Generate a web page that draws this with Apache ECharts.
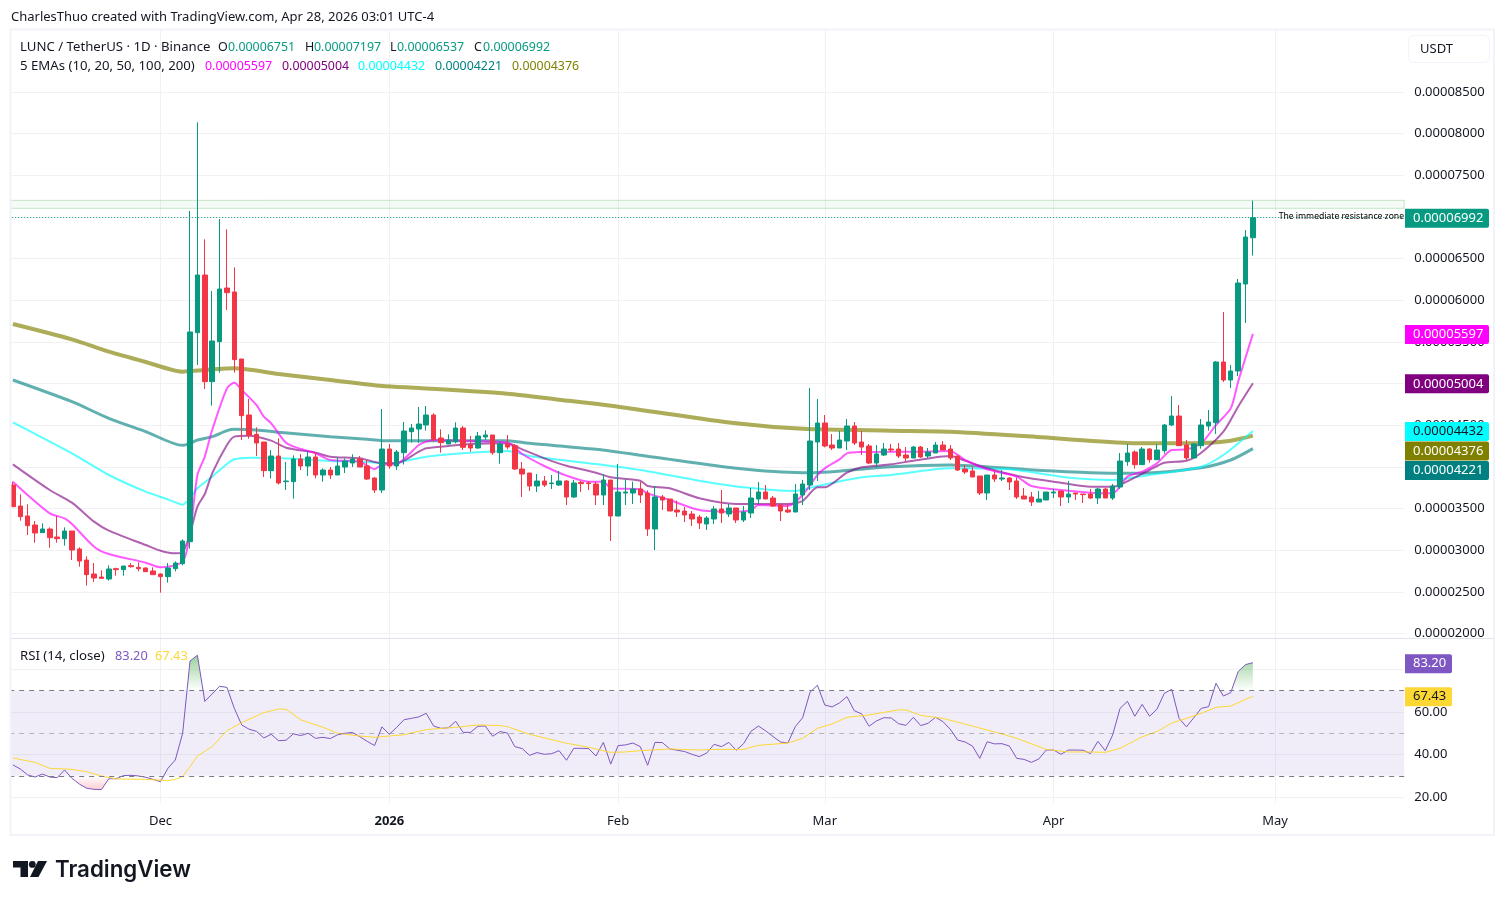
<!DOCTYPE html>
<html>
<head>
<meta charset="utf-8">
<title>LUNC / TetherUS</title>
<script src="https://cdn.jsdelivr.net/npm/echarts@6/dist/echarts.min.js"></script>
<style>
  html, body { margin: 0; padding: 0; background: #fff; }
  #chart { width: 1505px; height: 904px; }
</style>
</head>
<body>
<div id="chart"></div>
<script>
// prices are kept in units of 0.00000001 USDT, one row of ten = ten days, first day Nov 11 2025
var opens = [
  3784,3532,3412,3304,3212,3256,3160,3140,3232,3016,
  2884,2716,2680,2656,2780,2768,2816,2796,2788,2752,
  2716,2684,2780,2840,3104,5612,6304,5024,5504,6148,
  6100,5296,4624,4392,4300,3956,4132,3824,3824,4096,
  4012,4120,3904,3964,3904,4000,4048,4096,4012,3868,
  3724,4216,4012,4172,4424,4456,4504,4624,4348,4276,
  4304,4468,4268,4228,4360,4384,4172,4276,4256,3976,
  3928,3772,3832,3800,3784,3832,3640,3816,3808,3796,
  3664,3844,3412,3688,3688,3736,3688,3256,3640,3616,
  3484,3472,3436,3400,3316,3376,3496,3436,3508,3364,
  3448,3616,3700,3628,3544,3484,3460,3664,3784,4300,
  4528,4264,4228,4312,4492,4300,4252,4048,4144,4216,
  4216,4144,4108,4240,4132,4168,4264,4216,4132,3976,
  3952,3892,3688,3904,3856,3868,3832,3652,3640,3580,
  3604,3688,3712,3640,3688,3676,3676,3628,3736,3628,
  3760,4064,4180,4028,4216,4088,4196,4504,4612,4264,
  4108,4256,4492,4532,5260,5044,5152,6196,6751
];
var closes = [
  3524,3404,3296,3208,3256,3152,3140,3232,3004,2872,
  2708,2668,2664,2776,2768,2812,2804,2780,2744,2708,
  2684,2788,2848,3112,5620,6304,5024,5512,6136,6092,
  5288,4616,4380,4288,3956,4132,3808,3832,4096,4012,
  4120,3904,3964,3904,4012,4072,4096,4000,3856,3724,
  4216,4012,4180,4432,4468,4516,4624,4332,4292,4324,
  4468,4236,4228,4372,4384,4172,4276,4240,3976,3916,
  3772,3832,3784,3808,3832,3640,3808,3800,3800,3664,
  3844,3412,3700,3700,3736,3664,3256,3640,3604,3472,
  3460,3424,3376,3328,3388,3496,3448,3508,3364,3460,
  3628,3700,3616,3532,3472,3460,3676,3796,4312,4528,
  4252,4228,4324,4492,4288,4240,4048,4156,4216,4204,
  4132,4108,4240,4120,4180,4264,4204,4108,3964,3940,
  3880,3688,3904,3856,3868,3820,3640,3616,3580,3616,
  3700,3700,3640,3676,3676,3668,3628,3736,3628,3772,
  4072,4168,4028,4216,4088,4204,4504,4612,4256,4108,
  4276,4504,4540,5260,5044,5152,6208,6760,6992
];
var lows = [
  3524,3356,3184,3092,3212,3032,3092,3056,2884,2804,
  2576,2620,2656,2636,2696,2696,2792,2748,2740,2704,
  2492,2612,2748,2820,3020,5224,4936,4736,5132,5884,
  5132,4324,4340,4132,3880,3860,3792,3724,3620,3964,
  3892,3864,3824,3856,3904,3928,4000,4000,3844,3688,
  3688,3980,3964,4030,4292,4288,4436,4304,4172,4276,
  4284,4204,4184,4220,4324,4148,4040,4212,3964,3640,
  3712,3700,3760,3736,3772,3544,3628,3700,3724,3544,
  3544,3112,3412,3544,3556,3568,3172,3004,3484,3472,
  3400,3340,3292,3256,3244,3316,3328,3400,3328,3340,
  3388,3556,3616,3520,3352,3448,3460,3544,3724,3832,
  4236,4204,4228,4204,4264,4144,4036,3988,4132,4180,
  4108,4072,4108,4108,4108,4168,4204,4084,3952,3916,
  3880,3664,3604,3820,3832,3724,3616,3616,3532,3580,
  3604,3628,3532,3568,3604,3568,3616,3556,3628,3604,
  3736,4014,3980,4028,4052,4088,4160,4492,4256,4084,
  4100,4220,4436,4396,5020,4948,5092,5728,6537
];
var highs = [
  3824,3672,3552,3352,3324,3276,3412,3276,3232,3036,
  2928,2848,2760,2820,2792,2812,2848,2856,2796,2796,
  2724,2848,2868,3132,7072,8136,6732,6112,6976,6852,
  6396,5296,4816,4476,4300,4204,4344,4060,4140,4156,
  4192,4180,3984,4000,4120,4104,4152,4132,4084,3876,
  4696,4276,4204,4540,4516,4720,4732,4644,4452,4392,
  4536,4492,4372,4420,4440,4384,4304,4384,4276,4060,
  3928,3916,3892,3904,3952,3844,3844,3832,3832,3824,
  3916,3844,4036,3852,3824,3820,3720,3772,3664,3616,
  3596,3520,3472,3424,3412,3532,3724,3556,3508,3532,
  3748,3820,3784,3652,3556,3564,3796,3844,4948,4816,
  4624,4396,4432,4576,4540,4432,4276,4264,4288,4276,
  4288,4240,4252,4252,4228,4300,4312,4264,4132,4024,
  4000,3892,3904,3964,3964,3880,3876,3748,3700,3712,
  3700,3736,3712,3832,3688,3676,3736,3748,3748,3796,
  4168,4276,4200,4240,4224,4276,4516,4852,4744,4324,
  4284,4576,4684,5272,5860,5224,6256,6844,7197
];

// EMA lines at their bends: [day index, value]
var ema10 = [[0,3824],[5,3444],[7,3384],[8,3316],[11,3044],[13,2956],[18,2852],[20,2796],[23,2864],[24,3204],[25,3904],[26,4124],[27,4444],[29,4944],[30,5012],[31,4924],[33,4744],[34,4604],[35,4524],[37,4292],[39,4216],[41,4164],[43,4084],[47,4064],[49,3976],[50,4024],[52,4036],[55,4264],[56,4304],[57,4324],[62,4312],[67,4292],[69,4156],[72,4012],[75,3896],[78,3824],[80,3824],[81,3744],[85,3732],[86,3684],[89,3604],[93,3484],[98,3464],[100,3484],[101,3544],[105,3532],[107,3664],[109,3904],[110,3984],[112,4092],[113,4164],[115,4180],[120,4184],[123,4184],[127,4192],[129,4084],[132,3972],[136,3884],[138,3772],[142,3724],[146,3692],[149,3684],[151,3884],[153,3944],[155,4044],[157,4204],[159,4212],[161,4284],[163,4504],[165,4704],[166,5024],[168,5597]];
var ema20 = [[0,4032],[5,3724],[8,3572],[11,3344],[13,3236],[18,3064],[20,2996],[22,2964],[23,2976],[24,3204],[25,3524],[26,3676],[27,3924],[29,4264],[30,4364],[32,4376],[35,4316],[37,4232],[41,4172],[43,4124],[47,4104],[50,4044],[52,4044],[55,4184],[56,4224],[59,4252],[62,4276],[67,4284],[69,4212],[72,4104],[75,4016],[79,3932],[81,3876],[85,3836],[86,3772],[89,3744],[93,3624],[98,3556],[102,3556],[105,3556],[107,3592],[109,3756],[110,3756],[113,3932],[115,3996],[119,4032],[122,4076],[127,4132],[129,4076],[132,3984],[137,3876],[142,3812],[146,3764],[149,3764],[150,3784],[154,3964],[156,4052],[159,4076],[161,4172],[164,4424],[166,4724],[168,5004]];
var ema50 = [[0,4536],[8,4164],[13,3904],[18,3704],[21,3612],[23,3548],[24,3624],[25,3744],[27,3884],[29,4036],[30,4092],[32,4112],[36,4108],[43,4072],[48,4060],[50,4044],[52,4052],[56,4124],[62,4172],[67,4192],[70,4132],[79,4036],[85,3964],[93,3836],[99,3756],[106,3712],[109,3772],[115,3876],[119,3904],[127,3984],[135,3972],[142,3884],[146,3852],[149,3844],[154,3904],[161,4004],[164,4144],[168,4432]];
var ema100 = [[0,5044],[8,4784],[13,4584],[18,4424],[23,4260],[24,4284],[25,4324],[27,4364],[29,4436],[30,4452],[33,4444],[36,4416],[43,4364],[48,4332],[50,4316],[55,4316],[57,4316],[67,4316],[70,4284],[79,4212],[87,4116],[98,3984],[107,3932],[108,3932],[119,4004],[127,4024],[137,3972],[146,3932],[152,3924],[161,3992],[165,4084],[168,4221]];
var ema200 = [[0,5716],[8,5532],[13,5384],[18,5260],[23,5144],[24,5150],[30,5184],[36,5116],[43,5044],[50,4972],[55,4948],[67,4880],[74,4808],[82,4724],[98,4524],[107,4458],[119,4436],[127,4424],[137,4372],[151,4288],[156,4284],[161,4288],[165,4316],[168,4376]];

var rsi = [
  35.1,33.2,30.4,29.4,30.8,29.4,29.1,32.7,28.8,26.1,
  24.1,23.6,23.5,28.6,28.6,30.1,30.2,29.9,29.3,28.3,
  27.2,33.5,37.4,50.0,84.0,86.7,65.0,68.5,72.1,71.6,
  61.7,53.9,51.9,50.9,47.8,49.5,46.5,46.7,49.7,48.9,
  50.0,47.6,48.1,47.5,49.3,50.0,50.4,48.4,46.2,44.2,
  53.0,49.5,52.8,56.4,57.0,57.7,59.4,53.4,52.3,52.6,
  55.6,50.4,50.4,53.3,53.4,48.6,50.8,50.1,43.7,42.8,
  39.6,40.9,40.1,40.4,41.8,37.3,42.9,42.9,42.8,39.3,
  45.7,35.5,44.2,44.5,45.4,43.7,34.9,45.7,45.6,42.6,
  42.0,41.4,40.1,39.0,40.7,44.8,43.7,45.7,42.0,45.1,
  50.9,53.4,51.1,48.4,45.9,45.4,53.1,57.3,69.3,72.6,
  63.3,62.4,64.3,67.2,60.6,59.1,53.3,55.8,57.3,57.2,
  54.5,53.7,57.5,53.6,54.7,57.5,55.5,51.9,46.8,45.9,
  44.0,38.2,46.0,45.0,45.1,44.0,38.2,37.7,36.3,37.9,
  42.1,42.1,40.1,42.1,42.1,42.0,40.4,46.2,41.8,49.2,
  61.7,65.0,58.0,63.6,58.0,61.3,68.8,70.7,57.0,53.0,
  57.3,61.7,62.5,73.5,67.5,69.1,79.0,82.3,83.2
];
var rsiMa = [[0,38.4],[3,36.3],[5,33.5],[8,33.0],[10,31.9],[12,29.9],[14,28.5],[18,28.3],[21,27.7],[22,28.3],[23,29.6],[24,34.3],[25,39.3],[27,43.7],[29,51.2],[31,55.0],[34,59.7],[36,61.4],[37,61.3],[39,56.3],[42,52.8],[44,50.0],[47,48.7],[49,48.1],[51,48.7],[53,49.3],[56,51.7],[60,52.8],[63,53.9],[66,53.6],[67,53.1],[70,49.5],[75,45.3],[78,43.4],[81,41.0],[83,41.2],[85,41.8],[89,42.6],[93,42.1],[95,42.4],[99,42.4],[101,44.3],[105,45.4],[107,47.6],[109,52.3],[111,54.4],[113,57.5],[116,58.6],[120,61.0],[121,61.0],[123,58.4],[126,57.0],[130,53.4],[132,51.5],[134,49.7],[136,47.6],[140,42.4],[143,41.2],[146,41.2],[148,41.0],[150,42.9],[152,46.5],[153,48.3],[155,50.8],[157,54.8],[159,57.0],[161,59.4],[163,62.2],[165,62.8],[168,67.43]];

var priceTicks = [2000,2500,3000,3500,4000,4500,5000,5500,6000,6500,7000,7500,8000,8500];
var rsiTicks = [20,40,60,80];
var monthLabels = { '2025-12-01': 'Dec', '2026-01-01': '2026', '2026-02-01': 'Feb', '2026-03-01': 'Mar', '2026-04-01': 'Apr', '2026-05-01': 'May' };

var zoneTop = 7200, zoneBottom = 7104;
var lastPrice = closes[closes.length - 1];
var lastOpen = opens[opens.length - 1], lastHigh = highs[highs.length - 1], lastLow = lows[lows.length - 1];
var emaLast = [5597, 5004, 4432, 4221, 4376];
var rsiLast = 83.20, rsiMaLast = 67.43;

// 189 day slots, the chart runs past the last candle
var dates = [];
for (var i = 0; i < 189; i++) {
    dates.push(new Date(Date.UTC(2025, 10, 11 + i)).toISOString().slice(0, 10));
}

var FONT = '"Noto Sans", sans-serif';
var TEXT = '#131722';
var UP = '#089981', DOWN = '#f23645';
var GRID_LINE = '#f1f1f4';

// pane geometry
var LEFT = 9.2, WIDTH = 1395;
var MAIN_TOP = 30, MAIN_H = 608, RSI_TOP = 639, RSI_H = 164;
var RSI_MAX = 94.35, RSI_MIN = 17.18;

function fmtPrice(v) { return (v * 1e-8).toFixed(8); }
function rsiY(v) { return RSI_TOP + (RSI_MAX - v) / (RSI_MAX - RSI_MIN) * RSI_H; }

var chart = echarts.init(document.getElementById('chart'));

var candleData = opens.map(function (o, idx) { return [o, closes[idx], lows[idx], highs[idx]]; });

function emaSeries(name, data, color, width) {
    return {
        name: name, type: 'line', data: data, xAxisIndex: 0, yAxisIndex: 0,
        showSymbol: false, smooth: 0.25, z: 2,
        lineStyle: { color: color, width: width }
    };
}

// overbought / oversold shading, only the part outside 30..70 is coloured
var y70 = rsiY(70), y30 = rsiY(30), fadeTop = rsiY(86), fadeBottom = rsiY(22);
var span = fadeBottom - fadeTop;
var rsiFill = new echarts.graphic.LinearGradient(0, fadeTop, 0, fadeBottom, [
    { offset: 0, color: 'rgba(76,175,80,0.55)' },
    { offset: (y70 - fadeTop) / span, color: 'rgba(76,175,80,0)' },
    { offset: (y30 - fadeTop) / span, color: 'rgba(242,54,69,0)' },
    { offset: 1, color: 'rgba(242,54,69,0.3)' }
], true);

var option = {
    animation: false,
    backgroundColor: '#fff',
    textStyle: { fontFamily: FONT },
    grid: [
        { left: LEFT, width: WIDTH, top: MAIN_TOP, height: MAIN_H },
        { left: LEFT, width: WIDTH, top: RSI_TOP, height: RSI_H }
    ],
    xAxis: [0, 1].map(function (k) {
        return {
            type: 'category', gridIndex: k, data: dates, boundaryGap: true,
            axisLine: { show: false }, axisTick: { show: false },
            splitLine: {
                show: true, alignWithLabel: true,
                interval: function (idx, val) { return !!monthLabels[val]; },
                lineStyle: { color: GRID_LINE, width: 1 }
            },
            axisLabel: {
                show: k === 1, margin: 12, fontSize: 13, color: TEXT, fontFamily: FONT,
                interval: function (idx, val) { return !!monthLabels[val]; },
                formatter: function (val) {
                    var t = monthLabels[val];
                    return t === '2026' ? '{b|' + t + '}' : t;
                },
                rich: { b: { fontWeight: 'bold', fontSize: 13, color: TEXT, fontFamily: FONT } }
            }
        };
    }),
    yAxis: [
        {
            type: 'value', gridIndex: 0, position: 'right', min: 1948, max: 9244, scale: true,
            axisLine: { show: false },
            axisTick: { show: false, customValues: priceTicks },
            splitLine: { show: true, lineStyle: { color: GRID_LINE, width: 1 } },
            axisLabel: {
                customValues: priceTicks, margin: 10, fontSize: 13, color: TEXT, fontFamily: FONT,
                formatter: fmtPrice
            }
        },
        {
            type: 'value', gridIndex: 1, position: 'right', min: RSI_MIN, max: RSI_MAX, scale: true,
            axisLine: { show: false },
            axisTick: { show: false, customValues: rsiTicks },
            splitLine: { show: true, lineStyle: { color: GRID_LINE, width: 1 } },
            axisLabel: {
                customValues: rsiTicks, margin: 10, fontSize: 13, color: TEXT, fontFamily: FONT,
                formatter: function (v) { return v.toFixed(2); }
            }
        }
    ],
    series: [
        emaSeries('EMA 200', ema200, 'rgba(128,128,0,0.65)', 4),
        emaSeries('EMA 100', ema100, 'rgba(0,128,128,0.62)', 3),
        emaSeries('EMA 50', ema50, 'rgba(0,255,255,0.65)', 2),
        emaSeries('EMA 20', ema20, 'rgba(128,0,128,0.62)', 2),
        emaSeries('EMA 10', ema10, 'rgba(255,0,255,0.65)', 2),
        {
            name: 'LUNC', type: 'candlestick', data: candleData, xAxisIndex: 0, yAxisIndex: 0,
            barWidth: 5, z: 3,
            itemStyle: { color: UP, color0: DOWN, borderColor: UP, borderColor0: DOWN, borderWidth: 1 },
            markArea: {
                silent: true, z: 1,
                itemStyle: { color: 'rgba(76,175,80,0.06)', borderColor: 'rgba(76,175,80,0.3)', borderWidth: 1 },
                data: [[{ yAxis: zoneTop }, { yAxis: zoneBottom }]]
            },
            markLine: {
                silent: true, symbol: 'none', label: { show: false },
                lineStyle: { color: UP, type: [1, 2], width: 1 },
                data: [{ yAxis: lastPrice }]
            }
        },
        {
            name: 'RSI band', type: 'line', data: [], xAxisIndex: 1, yAxisIndex: 1, z: 1,
            markArea: {
                silent: true,
                itemStyle: { color: 'rgba(126,87,194,0.11)' },
                data: [[{ yAxis: 70 }, { yAxis: 30 }]]
            },
            markLine: {
                silent: true, symbol: 'none', label: { show: false },
                data: [
                    { yAxis: 70, lineStyle: { color: '#787b86', type: [5, 5], width: 1 } },
                    { yAxis: 50, lineStyle: { color: 'rgba(120,123,134,0.5)', type: [5, 5], width: 1 } },
                    { yAxis: 30, lineStyle: { color: '#787b86', type: [5, 5], width: 1 } }
                ]
            }
        },
        {
            name: 'RSI', type: 'line', data: rsi, xAxisIndex: 1, yAxisIndex: 1, showSymbol: false, z: 3,
            lineStyle: { color: '#7e57c2', width: 1 },
            areaStyle: { origin: 50, color: rsiFill, opacity: 1 }
        },
        {
            name: 'RSI MA', type: 'line', data: rsiMa, xAxisIndex: 1, yAxisIndex: 1, showSymbol: false, z: 4,
            lineStyle: { color: '#fdd835', width: 1 }
        }
    ]
};
chart.setOption(option);

// value tags on the right axis, pushed down when they would overlap like on TradingView
function tag(y, w, color, textColor, label) {
    return [
        { type: 'rect', z: 100, shape: { x: 1405, y: y - 9.5, width: w, height: 19, r: [0, 2, 2, 0] }, style: { fill: color } },
        { type: 'text', z: 101, style: { x: 1413, y: y, text: label, fill: textColor, font: '13px ' + FONT, verticalAlign: 'middle', align: 'left' } }
    ];
}

function priceTags() {
    var rows = [
        [lastPrice, UP, '#fff'],
        [emaLast[0], '#ff00ff', '#fff'],
        [emaLast[1], '#800080', '#fff'],
        [emaLast[2], '#00ffff', '#131722'],
        [emaLast[4], '#808000', '#fff'],
        [emaLast[3], '#008080', '#fff']
    ];
    var out = [], prev = -100;
    rows.forEach(function (r) {
        var y = Math.max(chart.convertToPixel({ yAxisIndex: 0 }, r[0]) + 0.5, prev + 19.5);
        prev = y;
        out = out.concat(tag(y, 84, r[1], r[2], fmtPrice(r[0])));
    });
    out = out.concat(tag(rsiY(rsiLast) + 1, 47, '#7e57c2', '#fff', rsiLast.toFixed(2)));
    out = out.concat(tag(rsiY(rsiMaLast) + 0.5, 47, '#fdd835', '#131722', rsiMaLast.toFixed(2)));
    return out;
}

// legend pieces sit at their own x so the columns line up with the picture
function piece(x, y, str, color, size) {
    return { type: 'text', z: 50, style: { x: x, y: y, text: str, fill: color, font: size + 'px ' + FONT, verticalAlign: 'middle' } };
}

var overlay = [
    // white strips hide what falls outside the pane, then the frame goes on top
    { type: 'rect', z: 40, shape: { x: 0, y: 28, width: 10, height: 810 }, style: { fill: '#fff' } },
    { type: 'rect', z: 41, shape: { x: 10.5, y: 29.5, width: 1483.5, height: 805.5 }, style: { fill: 'none', stroke: '#f0f3fa', lineWidth: 2 } },
    { type: 'line', z: 41, shape: { x1: 11, y1: 638.5, x2: 1494, y2: 638.5 }, style: { stroke: '#e0e3eb', lineWidth: 1 } },

    piece(11, 17, 'CharlesThuo created with TradingView.com, Apr 28, 2026 03:01 UTC-4', TEXT, 13),

    piece(20, 47, 'LUNC / TetherUS · 1D · Binance', TEXT, 13.2),
    piece(218, 47, 'O', TEXT, 12.5), piece(228, 47, fmtPrice(lastOpen), UP, 12.4),
    piece(305, 47, 'H', TEXT, 12.5), piece(314, 47, fmtPrice(lastHigh), UP, 12.4),
    piece(390, 47, 'L', TEXT, 12.5), piece(397, 47, fmtPrice(lastLow), UP, 12.4),
    piece(474, 47, 'C', TEXT, 12.5), piece(483, 47, fmtPrice(lastPrice), UP, 12.4),

    piece(20, 66, '5 EMAs (10, 20, 50, 100, 200)', TEXT, 13.2),
    piece(205, 66, fmtPrice(emaLast[0]), '#ff00ff', 12.4),
    piece(282, 66, fmtPrice(emaLast[1]), '#800080', 12.4),
    piece(358, 66, fmtPrice(emaLast[2]), '#00ffff', 12.4),
    piece(435, 66, fmtPrice(emaLast[3]), '#008080', 12.4),
    piece(512, 66, fmtPrice(emaLast[4]), '#808000', 12.4),

    piece(20, 656, 'RSI (14, close)', TEXT, 13.2),
    piece(115, 656, rsiLast.toFixed(2), '#7e57c2', 12.8),
    piece(155, 656, rsiMaLast.toFixed(2), '#fdd835', 12.8),

    { type: 'text', z: 50, style: { x: 1404, y: chart.convertToPixel({ yAxisIndex: 0 }, lastPrice) - 0.8, text: 'The immediate resistance zone', fill: '#000', font: '8.6px ' + FONT, align: 'right', verticalAlign: 'middle' } },

    { type: 'rect', z: 60, shape: { x: 1408.5, y: 35.5, width: 81, height: 27, r: 5 }, style: { fill: '#fff', stroke: '#f0f3fa', lineWidth: 1 } },
    { type: 'text', z: 61, style: { x: 1420, y: 49, text: 'USDT', fill: TEXT, font: '13px ' + FONT, verticalAlign: 'middle' } },

    // TradingView mark
    { type: 'polygon', z: 50, shape: { points: [[13, 861], [28, 861], [28, 877], [20.5, 877], [20.5, 867.5], [13, 867.5]] }, style: { fill: TEXT } },
    { type: 'circle', z: 50, shape: { cx: 32.3, cy: 864.4, r: 3.4 }, style: { fill: TEXT } },
    { type: 'polygon', z: 50, shape: { points: [[38, 861], [47, 861], [38.5, 877], [30, 877]] }, style: { fill: TEXT } },
    { type: 'text', z: 50, style: { x: 55, y: 870, text: 'TradingView', fill: TEXT, font: '600 22.3px Inter, sans-serif', verticalAlign: 'middle' } }
];

chart.setOption({ graphic: overlay.concat(priceTags()) });
</script>
</body>
</html>
